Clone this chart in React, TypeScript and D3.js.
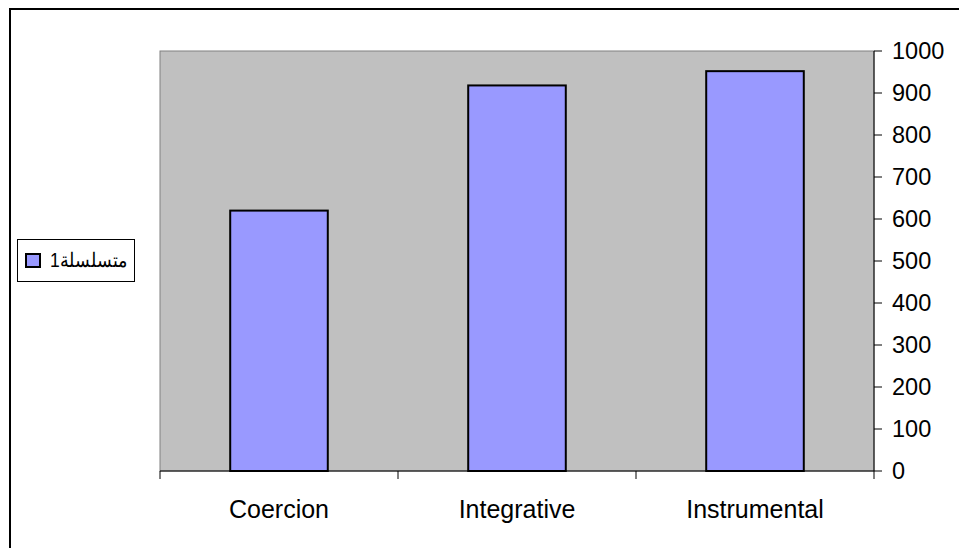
import * as d3 from "d3";

const categories = ["Coercion", "Integrative", "Instrumental"];
const values = [620, 918, 952];
const yTicks = [0, 100, 200, 300, 400, 500, 600, 700, 800, 900, 1000];
const seriesName = "متسلسلة1";

const W = 959;
const H = 548;
const plot = { left: 160, right: 874, top: 51, bottom: 471 };

export default function App() {
  const x = d3
    .scaleBand<string>()
    .domain(categories)
    .range([plot.left, plot.right])
    .paddingInner(0.59)
    .paddingOuter(0.295);
  const xOuter = d3.scaleBand<string>().domain(categories).range([plot.left, plot.right]);
  const y = d3.scaleLinear().domain([0, 1000]).range([plot.bottom, plot.top]);
  const font = "'Liberation Sans', Arial, sans-serif";

  return (
    <svg
      width={W}
      height={H}
      style={{ position: "fixed", left: 0, top: 0, display: "block", background: "#fff" }}
    >
      {/* outer frame */}
      <rect x={10} y={9} width={1000} height={600} fill="none" stroke="#000" strokeWidth={2} />

      {/* plot area */}
      <rect
        x={plot.left}
        y={plot.top}
        width={plot.right - plot.left}
        height={plot.bottom - plot.top}
        fill="#C0C0C0"
        stroke="#808080"
        strokeWidth={1}
      />

      {/* bars */}
      {categories.map((c, i) => (
        <rect
          key={c}
          x={x(c)!}
          y={y(values[i])}
          width={x.bandwidth()}
          height={y(0) - y(values[i])}
          fill="#9999FF"
          stroke="#000"
          strokeWidth={2}
        />
      ))}

      {/* x axis */}
      <line x1={plot.left} x2={plot.right} y1={plot.bottom} y2={plot.bottom} stroke="#000" strokeWidth={1} />
      {[...categories.map((c) => xOuter(c)!), plot.right].map((t, i) => (
        <line key={i} x1={t} x2={t} y1={plot.bottom} y2={plot.bottom + 8} stroke="#000" strokeWidth={1} />
      ))}
      {categories.map((c) => (
        <text
          key={c}
          x={xOuter(c)! + xOuter.bandwidth() / 2}
          y={518}
          textAnchor="middle"
          fontFamily={font}
          fontSize={25}
          fill="#000"
        >
          {c}
        </text>
      ))}

      {/* y axis on right */}
      <line x1={plot.right} x2={plot.right} y1={plot.top} y2={plot.bottom} stroke="#000" strokeWidth={1} />
      {yTicks.map((t) => (
        <g key={t}>
          <line x1={plot.right} x2={plot.right + 8} y1={y(t)} y2={y(t)} stroke="#000" strokeWidth={1} />
          <text x={892} y={y(t) + 8} fontFamily={font} fontSize={23.5} fill="#000">
            {t}
          </text>
        </g>
      ))}

      {/* legend */}
      <rect x={17.5} y={239.5} width={117} height={42} fill="#fff" stroke="#000" strokeWidth={1} />
      <rect x={26} y={254} width={14} height={13} fill="#9999FF" stroke="#000" strokeWidth={2} />
      <text
        x={50}
        y={267}
        fontFamily={font}
        fontSize={20}
        textLength={78}
        lengthAdjust="spacingAndGlyphs"
        fill="#000"
      >
        {seriesName}
      </text>
    </svg>
  );
}
